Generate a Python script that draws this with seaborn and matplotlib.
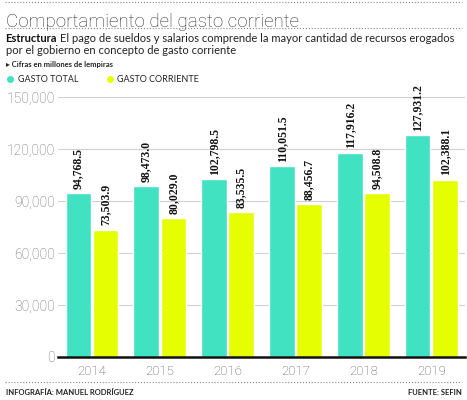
import pandas as pd
import numpy as np
import seaborn as sns
import matplotlib.pyplot as plt
from matplotlib.lines import Line2D

# data
years = ["2014", "2015", "2016", "2017", "2018", "2019"]
gasto_total = [94768.5, 98473.0, 102798.5, 110051.5, 117916.2, 127931.2]
gasto_corriente = [73503.9, 80029.0, 83535.5, 88456.7, 94508.8, 102388.1]
series_names = ["GASTO TOTAL", "GASTO CORRIENTE"]
y_ticks = [0, 30000, 60000, 90000, 120000, 150000]

teal = "#40e2c1"
yellow = "#e5ff00"

df = pd.DataFrame({
    "year": years * 2,
    "serie": [series_names[0]] * len(years) + [series_names[1]] * len(years),
    "valor": gasto_total + gasto_corriente,
})

sns.set_style("white")
plt.rcParams["font.family"] = ["Lato", "DejaVu Sans"]

fig = plt.figure(figsize=(4.67, 4.0), dpi=100)
ax = fig.add_axes([0.124, 0.1075, 0.872, 0.65])

sns.barplot(data=df, x="year", y="valor", hue="serie", palette=[teal, yellow],
            width=0.8, gap=0.06, ax=ax, legend=False, saturation=1)

# rotated value labels above each bar
for cont, vals in zip(ax.containers, [gasto_total, gasto_corriente]):
    ax.bar_label(cont, labels=[f"{v:,.1f}" for v in vals], rotation=90, padding=3,
                 fontsize=8.5, fontweight="bold", family="Liberation Serif", color="#111111")

ax.set_ylim(0, 150000)
ax.set_xlim(-0.5, 5.5)
ax.set_yticks(y_ticks)
ax.set_yticklabels([f"{t:,}" for t in y_ticks], fontsize=10, color="#6a6a6a",
                   family="Roboto", fontweight="light")
ax.tick_params(axis="x", labelsize=9.5, colors="#555555", length=0, pad=6)
ax.tick_params(axis="y", length=0, pad=2)
for lab in ax.get_xticklabels():
    lab.set_family("Roboto")
    lab.set_fontweight("light")
ax.set_xlabel("")
ax.set_ylabel("")
ax.yaxis.grid(True, color="#d0d0d0", linewidth=0.8)
ax.set_axisbelow(True)
for s in ["top", "right", "left"]:
    ax.spines[s].set_visible(False)
ax.spines["bottom"].set_color("#111111")
ax.spines["bottom"].set_linewidth(1.8)

# legend
handles = [Line2D([], [], marker="o", linestyle="", markersize=4, color=c) for c in [teal, yellow]]
fig.legend(handles, series_names, loc="center left", bbox_to_anchor=(-0.005, 0.802), ncol=2,
           frameon=False, fontsize=6.5, handletextpad=0.3, columnspacing=3.0, handlelength=1.0,
           labelcolor="#222222")

# header / footer text
fig.add_artist(Line2D([0.01, 0.99], [0.995, 0.995], color="#888888", lw=0.8, ls=":"))
fig.text(0.012, 0.945, "Comportamiento del gasto corriente", fontsize=13.5, family="Roboto",
         fontweight="light", color="#333333", va="center")
fig.add_artist(Line2D([0.01, 0.99], [0.93, 0.93], color="#888888", lw=0.8, ls=":"))
t1 = fig.text(0.012, 0.905, "Estructura", fontsize=8, fontweight="bold", color="#111111", va="center")
fig.canvas.draw()
bb = t1.get_window_extent().transformed(fig.transFigure.inverted())
fig.text(bb.x1 + 0.006, 0.905,
         "El pago de sueldos y salarios comprende la mayor cantidad de recursos erogados",
         fontsize=8, color="#222222", va="center")
fig.text(0.012, 0.873, "por el gobierno en concepto de gasto corriente", fontsize=8,
         color="#222222", va="center")
fig.text(0.012, 0.84, "\u25b8 Cifras en millones de lempiras", fontsize=5.5, fontweight="bold",
         color="#222222", va="center")

fig.add_artist(Line2D([0.01, 0.99], [0.045, 0.045], color="#888888", lw=0.8, ls=":"))
fig.text(0.012, 0.018, "INFOGRAFÍA: MANUEL RODRÍGUEZ", fontsize=5.5, fontweight="bold",
         color="#222222", va="center")
fig.text(0.99, 0.018, "FUENTE: SEFIN", fontsize=5.5, fontweight="bold", color="#222222",
         va="center", ha="right")

fig.savefig("out.png", dpi=100)
